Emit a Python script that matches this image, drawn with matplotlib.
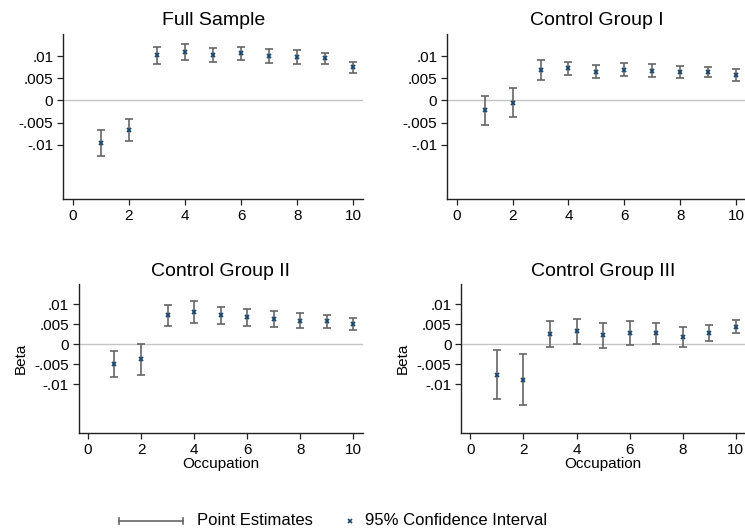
import numpy as np
import matplotlib.pyplot as plt
from matplotlib.lines import Line2D

plt.rcParams['font.family'] = ['Liberation Sans', 'DejaVu Sans']

occupation = np.arange(1, 11)

full_beta = [-0.00955, -0.0067, 0.0102, 0.0109, 0.0102, 0.0107, 0.0100, 0.0098, 0.0095, 0.0075]
full_lo = [-0.0124, -0.0091, 0.0082, 0.0090, 0.0086, 0.0090, 0.0085, 0.0081, 0.0082, 0.0062]
full_hi = [-0.0066, -0.0042, 0.0120, 0.0127, 0.0118, 0.0121, 0.0115, 0.0113, 0.0107, 0.0087]

cg1_beta = [-0.0021, -0.0006, 0.0068, 0.0072, 0.0065, 0.0069, 0.0067, 0.0065, 0.0064, 0.0057]
cg1_lo = [-0.0056, -0.0038, 0.0045, 0.0057, 0.0051, 0.0054, 0.0053, 0.0051, 0.0052, 0.0044]
cg1_hi = [0.0011, 0.0027, 0.0091, 0.0086, 0.0080, 0.0084, 0.0081, 0.0078, 0.0075, 0.0071]

cg2_beta = [-0.0049, -0.0037, 0.0072, 0.0081, 0.0072, 0.0067, 0.0062, 0.0058, 0.0057, 0.0051]
cg2_lo = [-0.0081, -0.0076, 0.0045, 0.0054, 0.0051, 0.0046, 0.0043, 0.0040, 0.0041, 0.0036]
cg2_hi = [-0.0018, 0.0000, 0.0098, 0.0107, 0.0094, 0.0088, 0.0082, 0.0077, 0.0072, 0.0066]

cg3_beta = [-0.0076, -0.0089, 0.0026, 0.0033, 0.0022, 0.0029, 0.0028, 0.0018, 0.0029, 0.0043]
cg3_lo = [-0.0137, -0.0153, -0.0008, 0.0000, -0.0010, -0.0002, 0.0000, -0.0008, 0.0008, 0.0027]
cg3_hi = [-0.0015, -0.0025, 0.0059, 0.0064, 0.0053, 0.0058, 0.0053, 0.0044, 0.0049, 0.0060]

titles = ['Full Sample', 'Control Group I', 'Control Group II', 'Control Group III']
yticks = [0.01, 0.005, 0, -0.005, -0.01]
ytick_labels = ['.01', '.005', '0', '-.005', '-.01']
xticks = [0, 2, 4, 6, 8, 10]

panels = [
    (full_beta, full_lo, full_hi, [0.0846, 0.6243, 0.403, 0.312], False),
    (cg1_beta, cg1_lo, cg1_hi, [0.600, 0.6243, 0.401, 0.312], False),
    (cg2_beta, cg2_lo, cg2_hi, [0.1056, 0.184, 0.381, 0.2806], True),
    (cg3_beta, cg3_lo, cg3_hi, [0.619, 0.184, 0.381, 0.2806], True),
]

err_col = '#666666'
pt_col = '#1a476f'

fig = plt.figure(figsize=(7.45, 5.31), dpi=100)

for (beta, lo, hi, rect, bottom_row), title in zip(panels, titles):
    ax = fig.add_axes(rect)
    beta = np.array(beta)
    yerr = [beta - np.array(lo), np.array(hi) - beta]
    ax.axhline(0, color='#c4c4c4', lw=1.0, zorder=1)
    ax.errorbar(occupation, beta, yerr=yerr, fmt='none', ecolor=err_col,
                elinewidth=1.2, capsize=3.2, capthick=1.2, zorder=2)
    ax.plot(occupation, beta, 'x', color=pt_col, ms=3.5, mew=1.3, zorder=3)
    ax.set_xlim(-0.35, 10.35)
    ax.set_ylim(-0.0223, 0.015)
    ax.set_xticks(xticks)
    ax.set_yticks(yticks)
    ax.set_yticklabels(ytick_labels)
    for s in ['top', 'right']:
        ax.spines[s].set_visible(False)
    for s in ['left', 'bottom']:
        ax.spines[s].set_linewidth(1.0)
        ax.spines[s].set_color('#222222')
    ax.tick_params(direction='out', length=4, width=0.9, labelsize=11, pad=3,
                   color='#222222')
    ax.set_title(title, fontsize=14, pad=6)
    if bottom_row:
        ax.set_ylabel('Beta', fontsize=11, labelpad=5)
        ax.set_xlabel('Occupation', fontsize=11, labelpad=0)

# legend along the bottom
ly = 0.019
fig.add_artist(Line2D([0.1597, 0.2456], [ly, ly], color=err_col, lw=1.2,
                      transform=fig.transFigure))
for xe in [0.1597, 0.2456]:
    fig.add_artist(Line2D([xe, xe], [ly - 0.005, ly + 0.005], color=err_col, lw=1.2,
                          transform=fig.transFigure))
fig.text(0.2644, ly, 'Point Estimates', fontsize=12, va='center', ha='left')
fig.add_artist(Line2D([0.4698], [ly], marker='x', color=pt_col, ms=3.2, mew=1.2,
                      ls='none', transform=fig.transFigure))
fig.text(0.490, ly, '95% Confidence Interval', fontsize=12, va='center', ha='left')

fig.savefig('out.png', dpi=100)
